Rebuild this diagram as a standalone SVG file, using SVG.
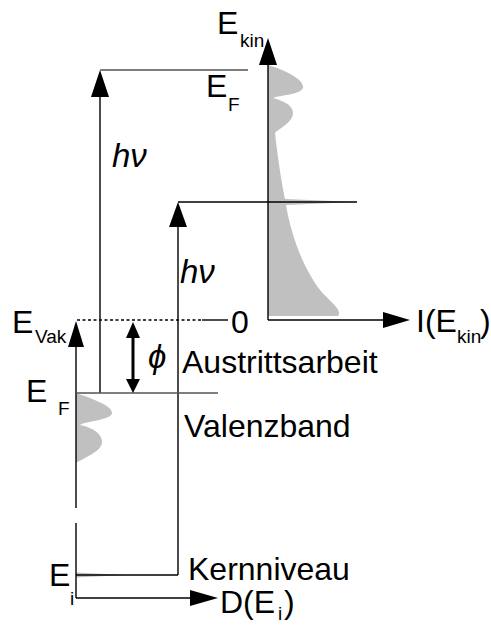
<svg xmlns="http://www.w3.org/2000/svg" width="491" height="625" viewBox="0 0 491 625">
<style>
.t{font-family:"Liberation Sans",Arial,sans-serif;font-size:32px;fill:#000}
.s{font-family:"Liberation Sans",Arial,sans-serif;font-size:19px;fill:#000}
.it{font-family:"Liberation Sans",Arial,sans-serif;font-size:33px;font-style:italic;fill:#000}
.ln{stroke:#000;stroke-width:1.4;fill:none}
.gl{stroke:#555;stroke-width:1.4;fill:none}
.dos{fill:#c0c0c0;stroke:none}
.ah{fill:#000;stroke:none}
</style>
<rect width="491" height="625" fill="#fff"/>
<g id="spectrum-right">
<path class="dos" d="M268,65 C285,70 305,80 303,88 C300,95 280,95 273,98 C285,101 293,106 293,113 C293,122 280,128 275,133 C278,160 282,185 285,199 L357,202 L286,205 C292,240 305,270 320,290 C330,302 343,310 338,316 L268,316 Z"/>
</g>
<g id="dos-left">
<path class="dos" d="M76,393 C90,398 112,405 112,413 C112,420 86,421 80,425 C95,428 102,435 102,442 C102,451 86,457 76,463 Z"/>
<path class="dos" d="M76,572.5 L126,575 L76,577.5 Z"/>
</g>
<g id="connectors">
<line class="ln" x1="76" y1="347" x2="76" y2="508"/>
<line class="ln" x1="76" y1="523" x2="76" y2="598"/>
<line class="ln" x1="76" y1="598" x2="192" y2="598"/>
<polygon class="ah" points="190,590 218,598 190,606"/>
<polygon class="ah" points="68,347 76,321 84,347"/>
<line class="ln" x1="77" y1="320" x2="202" y2="320" stroke-dasharray="3,2.5"/>
<line class="ln" x1="202" y1="320" x2="228" y2="320"/>
<line class="ln" x1="268" y1="320" x2="268" y2="63"/>
<polygon class="ah" points="259,65 268,38 277,65"/>
<line class="ln" x1="268" y1="320" x2="385" y2="320"/>
<polygon class="ah" points="383,312 410,320 383,328"/>
<line class="ln" x1="100" y1="393" x2="100" y2="95"/>
<polygon class="ah" points="91,97 100,70 109,97"/>
<line class="gl" x1="100" y1="70" x2="248" y2="70"/>
<line class="ln" x1="178" y1="575" x2="178" y2="225"/>
<polygon class="ah" points="169,227 178,202 187,227"/>
<line class="ln" x1="178" y1="202" x2="357" y2="202"/>
<line class="gl" x1="76" y1="393" x2="218" y2="393"/>
<line class="ln" x1="76" y1="575" x2="178" y2="575"/>
<line x1="133" y1="336" x2="133" y2="381" stroke="#000" stroke-width="3"/>
<polygon class="ah" points="126,338 133,322 140,338"/>
<polygon class="ah" points="126,379 133,393 140,379"/>
</g>
<g id="labels">
<text class="t" x="217" y="34">E</text><text class="s" x="240" y="47">kin</text>
<text class="t" x="206" y="97">E</text><text class="s" x="228" y="111">F</text>
<text class="it" x="112" y="167">hν</text>
<text class="it" x="180" y="283">hν</text>
<text class="t" x="12" y="333">E</text><text class="s" x="35" y="343">Vak</text>
<text class="t" x="231" y="333">0</text>
<text class="t" x="416" y="332">I(E</text><text class="s" x="457" y="343">kin</text><text class="t" x="480" y="332">)</text>
<text class="it" x="148" y="368">ϕ</text>
<text class="t" x="182" y="373">Austrittsarbeit</text>
<text class="t" x="26" y="402">E</text><text class="s" x="58" y="415">F</text>
<text class="t" x="184" y="437">Valenzband</text>
<text class="t" x="188" y="580" font-size="31">Kernniveau</text>
<text class="t" x="49" y="586">E</text><text class="s" x="70" y="605">i</text>
<text class="t" x="220" y="613">D(E</text><text class="s" x="278" y="620">i</text><text class="t" x="284" y="613">)</text>
</g>
</svg>
